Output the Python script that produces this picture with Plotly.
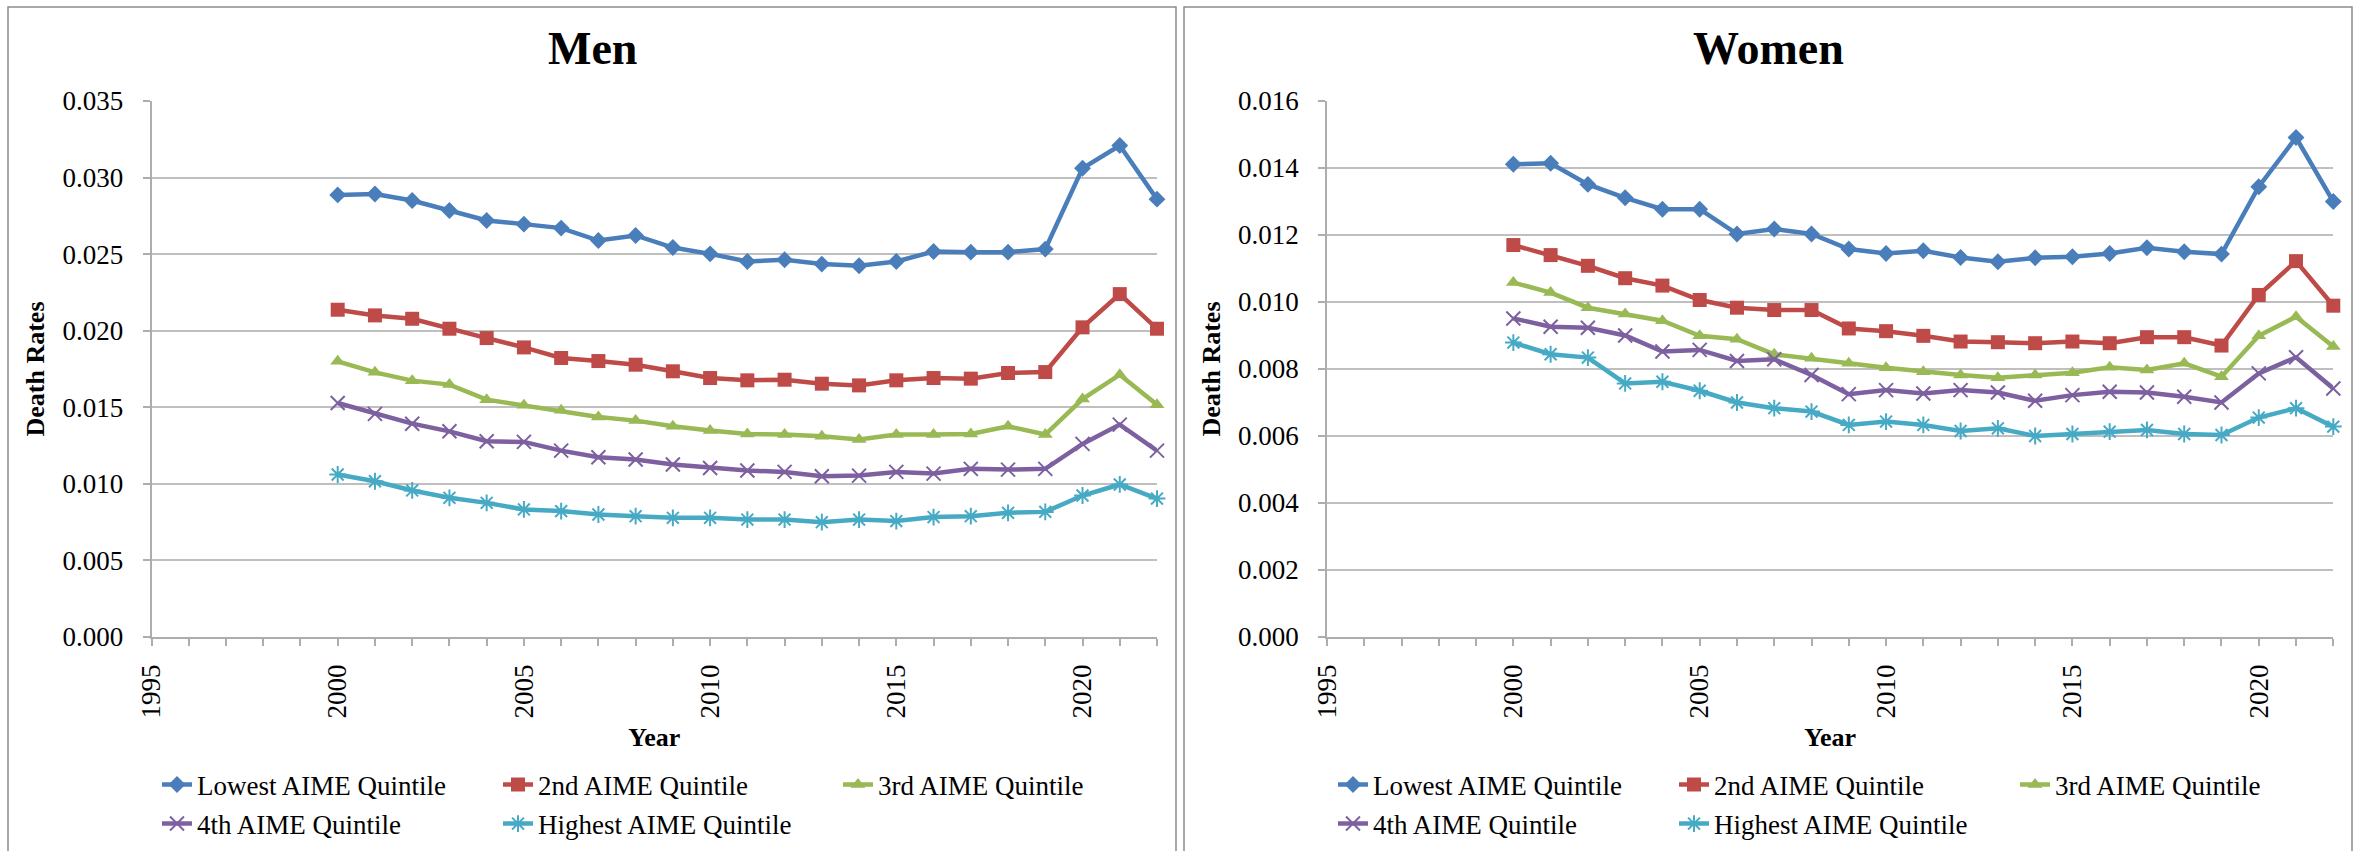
import plotly.graph_objects as go

W, H = 2361, 851

years = list(range(2000, 2023))
series_names = ["Lowest AIME Quintile", "2nd AIME Quintile", "3rd AIME Quintile",
                "4th AIME Quintile", "Highest AIME Quintile"]

men_lowest = [0.02887, 0.02893, 0.02850, 0.02785, 0.02720, 0.02696, 0.02670, 0.02589, 0.02622, 0.02543, 0.02502,
              0.02452, 0.02463, 0.02435, 0.02424, 0.02452, 0.02517, 0.02513, 0.02513, 0.02533, 0.03061, 0.03209, 0.02859]
men_2nd = [0.02137, 0.02100, 0.02078, 0.02013, 0.01952, 0.01891, 0.01822, 0.01802, 0.01778, 0.01735, 0.01691,
           0.01676, 0.01680, 0.01654, 0.01643, 0.01676, 0.01691, 0.01687, 0.01724, 0.01730, 0.02022, 0.02239, 0.02013]
men_3rd = [0.01800, 0.01728, 0.01674, 0.01648, 0.01550, 0.01513, 0.01480, 0.01437, 0.01413, 0.01376, 0.01348,
           0.01326, 0.01322, 0.01311, 0.01289, 0.01322, 0.01322, 0.01326, 0.01376, 0.01322, 0.01554, 0.01713, 0.01517]
men_4th = [0.01528, 0.01457, 0.01393, 0.01343, 0.01278, 0.01274, 0.01217, 0.01174, 0.01159, 0.01126, 0.01104,
           0.01087, 0.01078, 0.01050, 0.01054, 0.01078, 0.01067, 0.01098, 0.01093, 0.01098, 0.01261, 0.01387, 0.01217]
men_highest = [0.01061, 0.01017, 0.00957, 0.00909, 0.00876, 0.00833, 0.00822, 0.00800, 0.00789, 0.00778, 0.00778,
               0.00767, 0.00767, 0.00750, 0.00767, 0.00757, 0.00783, 0.00789, 0.00811, 0.00817, 0.00924, 0.00996, 0.00904]

women_lowest = [0.01411, 0.01414, 0.01351, 0.01311, 0.01277, 0.01277, 0.01203, 0.01218, 0.01203, 0.01158, 0.01145,
                0.01153, 0.01133, 0.01120, 0.01132, 0.01135, 0.01145, 0.01162, 0.01150, 0.01143, 0.01344, 0.01491, 0.01300]
women_2nd = [0.01170, 0.01140, 0.01108, 0.01071, 0.01049, 0.01006, 0.00983, 0.00976, 0.00976, 0.00921, 0.00913,
             0.00899, 0.00882, 0.00880, 0.00877, 0.00882, 0.00877, 0.00895, 0.00895, 0.00870, 0.01021, 0.01122, 0.00989]
women_3rd = [0.01058, 0.01028, 0.00983, 0.00964, 0.00944, 0.00899, 0.00889, 0.00844, 0.00832, 0.00817, 0.00804,
             0.00792, 0.00782, 0.00774, 0.00782, 0.00789, 0.00805, 0.00797, 0.00817, 0.00777, 0.00899, 0.00956, 0.00867]
women_4th = [0.00951, 0.00926, 0.00923, 0.00900, 0.00852, 0.00857, 0.00824, 0.00829, 0.00782, 0.00725, 0.00737,
             0.00727, 0.00737, 0.00730, 0.00705, 0.00722, 0.00732, 0.00730, 0.00717, 0.00700, 0.00787, 0.00835, 0.00742]
women_highest = [0.00879, 0.00844, 0.00834, 0.00757, 0.00762, 0.00735, 0.00700, 0.00683, 0.00673, 0.00633, 0.00643,
                 0.00633, 0.00615, 0.00623, 0.00600, 0.00606, 0.00613, 0.00618, 0.00606, 0.00603, 0.00655, 0.00683, 0.00628]

panels = [
    ("Men", [men_lowest, men_2nd, men_3rd, men_4th, men_highest], 0.035, 0.005),
    ("Women", [women_lowest, women_2nd, women_3rd, women_4th, women_highest], 0.016, 0.002),
]

colors = ["#4A7EBB", "#BE4B48", "#98B954", "#7D60A0", "#46AAC5"]
symbols = ["diamond", "square", "triangle-up", "x-thin-open", "asterisk-open"]
msizes = [13, 14, 13, 14, 14]

FONT = "Liberation Serif"
GRID = "#BFBFBF"
AXC = "#ADADAD"

# pixel geometry
panel_boxes = [(8, 1176), (1184, 2352)]
plot_x = [(151.5, 1157.0), (1327.0, 2333.3)]
plot_top, plot_bot = 101.0, 637.0
legend_cols = [[162, 503, 843], [1338, 1679, 2020]]
legend_rows = [785, 824]
item_pos = [(0, 0), (1, 0), (2, 0), (0, 1), (1, 1)]

fig = go.Figure()
layout_extra = {}
legend_index = 0
for p, (title, series, ymax, dy) in enumerate(panels):
    xa = "x" if p == 0 else "x2"
    ya = "y" if p == 0 else "y2"
    for i, name in enumerate(series_names):
        legend_index += 1
        lname = "legend" if legend_index == 1 else f"legend{legend_index}"
        fig.add_trace(go.Scatter(
            x=years, y=series[i], name=name, mode="lines+markers",
            xaxis=xa, yaxis=ya, legend=lname, cliponaxis=False,
            line=dict(color=colors[i], width=4.5),
            marker=dict(symbol=symbols[i], size=msizes[i], color=colors[i],
                        line=dict(color=colors[i], width=2 if i >= 3 else 0)),
        ))
        c, r = item_pos[i]
        lx = legend_cols[p][c] - 5
        ly = legend_rows[r]
        layout_extra[lname] = dict(
            x=lx / W, y=1 - ly / H, xanchor="left", yanchor="middle",
            orientation="h", bgcolor="rgba(0,0,0,0)", borderwidth=0,
            font=dict(family=FONT, size=27, color="black"),
        )

    x0, x1 = plot_x[p]
    axis_common = dict(
        showline=True, linecolor=AXC, linewidth=1.5,
        ticks="outside", ticklen=7, tickwidth=1.5, tickcolor=AXC,
        tickfont=dict(family=FONT, size=27, color="black"),
    )
    xkey = "xaxis" if p == 0 else "xaxis2"
    ykey = "yaxis" if p == 0 else "yaxis2"
    layout_extra[xkey] = dict(
        domain=[x0 / W, x1 / W], anchor=ya, range=[1995, 2022],
        tick0=1995, dtick=5, tickangle=-90, showgrid=False, zeroline=False,
        minor=dict(dtick=1, ticks="outside", ticklen=7, tickwidth=1.5, tickcolor=AXC, showgrid=False),
        title=dict(text="Year", font=dict(family=FONT, size=26, color="black", weight="bold"), standoff=10),
        ticklabelstandoff=8, automargin=False,
        **axis_common,
    )
    layout_extra[ykey] = dict(
        domain=[1 - plot_bot / H, 1 - plot_top / H], anchor=xa, range=[0, ymax],
        tick0=0, dtick=dy, tickformat=".3f", showgrid=True, gridcolor=GRID, gridwidth=1.5,
        zeroline=False,
        title=dict(text="Death Rates", font=dict(family=FONT, size=26, color="black", weight="bold"), standoff=10),
        ticklabelstandoff=14, automargin=False,
        **axis_common,
    )

shapes = []
annotations = []
for p, (title, *_rest) in enumerate(panels):
    bx0, bx1 = panel_boxes[p]
    shapes.append(dict(type="rect", xref="paper", yref="paper",
                       x0=bx0 / W, x1=bx1 / W, y0=-0.02, y1=1 - 7 / H,
                       line=dict(color="#8C8C8C", width=1.5), fillcolor="rgba(0,0,0,0)", layer="below"))
    annotations.append(dict(text=title, xref="paper", yref="paper",
                            x=(bx0 + bx1) / 2 / W, y=1 - 49 / H, xanchor="center", yanchor="middle",
                            showarrow=False, font=dict(family=FONT, size=46, color="black", weight="bold")))

fig.update_layout(
    width=W, height=H, margin=dict(l=0, r=0, t=0, b=0, autoexpand=False),
    paper_bgcolor="white", plot_bgcolor="white",
    showlegend=True, shapes=shapes, annotations=annotations,
    font=dict(family=FONT, color="black"),
    **layout_extra,
)

fig.write_html("out.html", config={"displayModeBar": False},
               post_script="document.body.style.margin='0';document.body.style.overflow='hidden';")
